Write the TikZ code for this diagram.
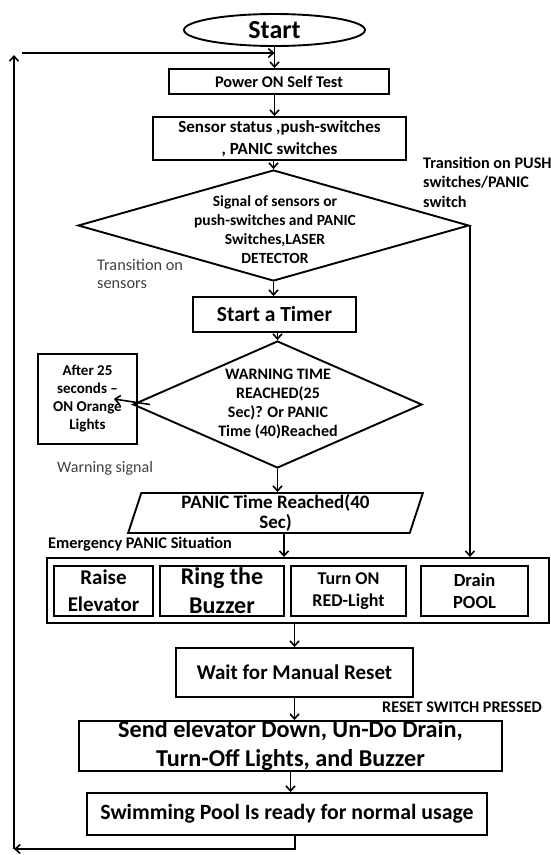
\documentclass[tikz,border=0pt]{standalone}
\usepackage{fontspec}
\setmainfont{Carlito}
\usetikzlibrary{arrows.meta,positioning,shapes.geometric}
\newcommand{\fsz}[2]{\fontsize{#1}{#2}\selectfont}
\newcommand{\bfsz}[2]{\bfseries\fontsize{#1}{#2}\selectfont}
\tikzset{
	box/.style={draw,line width=1.9pt,inner sep=0pt,align=center},
	arr/.style={line width=1.6pt,-{Straight Barb[length=5pt,width=9pt]}},
	note/.style={anchor=west,inner sep=0pt,align=left},
}

\begin{document}
\begin{tikzpicture}[x=1pt,y=-1pt]
	\useasboundingbox (0,0) rectangle (551,855);
	\node[box,ellipse,minimum width=181pt,minimum height=32pt,font=\bfsz{26}{30}] (start) at (274.5,30) {Start};
	\node[box,minimum width=220pt,minimum height=25pt,font=\bfsz{16.3}{19}] (post) at (279,81.5) {Power ON Self Test};
	\node[box,minimum width=253pt,minimum height=43pt,font=\bfsz{17}{22}] (sensor) at (279.5,138.5) {Sensor status ,push-switches\\, PANIC switches};
	\node[box,diamond,minimum width=391pt,minimum height=111pt] (sig) at (273.5,225.5) {};
	\node[inner sep=0pt,align=center,font=\bfsz{15.5}{19}] (sigtxt) at (275,230) {Signal of sensors or\\push-switches and PANIC\\Switches,LASER\\DETECTOR};
	\node[box,minimum width=163pt,minimum height=35pt,font=\bfsz{21.5}{25}] (timer) at (274.5,314.5) {Start a Timer};
	\node[box,diamond,minimum width=289pt,minimum height=127pt] (warn) at (277.5,404.5) {};
	\node[inner sep=0pt,align=center,font=\bfsz{16}{19}] (warntxt) at (278,404) {WARNING TIME\\REACHED(25\\Sec)? Or PANIC\\Time (40)Reached};
	\node[box,minimum width=99pt,minimum height=90pt,font=\bfsz{15}{18}] (orange) at (87.5,399) {After 25\\seconds --\\ON Orange\\Lights};
	\node[box,trapezium,trapezium left angle=76,trapezium right angle=104,trapezium stretches=true,minimum width=295pt,minimum height=40pt,font=\bfsz{19}{20}] (panic) at (275.5,513) {PANIC Time Reached(40\\Sec)};
	\node[box,minimum width=502pt,minimum height=65pt] (frame) at (298,590.5) {};
	\node[box,minimum width=99pt,minimum height=50pt,font=\bfsz{21}{27}] (raise) at (103.5,591) {Raise\\Elevator};
	\node[box,minimum width=124pt,minimum height=50pt,font=\bfsz{24}{29}] (ring) at (222,591) {Ring the\\Buzzer};
	\node[box,minimum width=115pt,minimum height=50pt,font=\bfsz{18}{22}] (turnon) at (348.5,591) {Turn ON\\RED-Light};
	\node[box,minimum width=107pt,minimum height=50pt,font=\bfsz{18.5}{22}] (drain) at (474.5,591) {Drain\\POOL};
	\node[box,minimum width=237pt,minimum height=49pt,font=\bfsz{21}{25}] (wait) at (294.5,672.5) {Wait for Manual Reset};
	\node[box,minimum width=423pt,minimum height=48pt,font=\bfsz{24.2}{29}] (send) at (290.5,746) {Send elevator Down, Un-Do Drain,\\Turn-Off Lights, and Buzzer};
	\node[box,minimum width=400pt,minimum height=42pt,font=\bfsz{21.8}{24}] (swim) at (287,814) {Swimming Pool Is ready for normal usage};
	\node[note,font=\bfsz{16.2}{19.5}] (pushlbl) at (423,182) {Transition on PUSH\\switches/PANIC\\switch};
	\node[note,text=black!75,font=\fsz{16.3}{18}] (senslbl) at (97,274) {Transition on\\sensors};
	\node[note,text=black!75,font=\fsz{16}{18}] (warnlbl) at (57,468) {Warning signal};
	\node[note,font=\bfsz{16.3}{18}] (emerglbl) at (48,544) {Emergency PANIC Situation};
	\node[note,font=\bfsz{16.2}{18}] (resetlbl) at (382,707) {RESET SWITCH PRESSED};
	\coordinate (cbl) at (14,849);
	\coordinate (ctl) at (14,55);
	\coordinate (cfb) at (22,53);
	\draw[arr] (start.south) -- (start.south |- post.north);
	\draw[arr] (start.south |- post.south) -- (start.south |- sensor.north);
	\draw[arr] (sig.north |- sensor.south) -- (sig.north);
	\draw[arr] (sig.south) -- (sig.south |- timer.north);
	\draw[arr] (warn.north |- timer.south) -- (warn.north);
	\draw[arr] ([xshift=18pt]warn.west) -- ([xshift=-24pt]orange.east);
	\draw[arr] (warn.south) -- (warn.south |- panic.north);
	\draw[arr] ([xshift=8.5pt]panic.south) -- ([xshift=8.5pt]panic.south |- frame.north);
	\draw[arr] (sig.east) -- (sig.east |- frame.north);
	\draw[arr] (wait.north |- frame.south) -- (wait.north);
	\draw[arr] (wait.south) -- (wait.south |- send.north);
	\draw[arr] (send.south) -- (send.south |- swim.north);
	\draw[arr] ([xshift=8pt]swim.south) -- ([xshift=8pt]swim.south |- cbl) -- (cbl);
	\draw[arr] (cbl) -- (ctl);
	\draw[arr] (cfb) -- (cfb -| start.south);
\end{tikzpicture}
\end{document}
